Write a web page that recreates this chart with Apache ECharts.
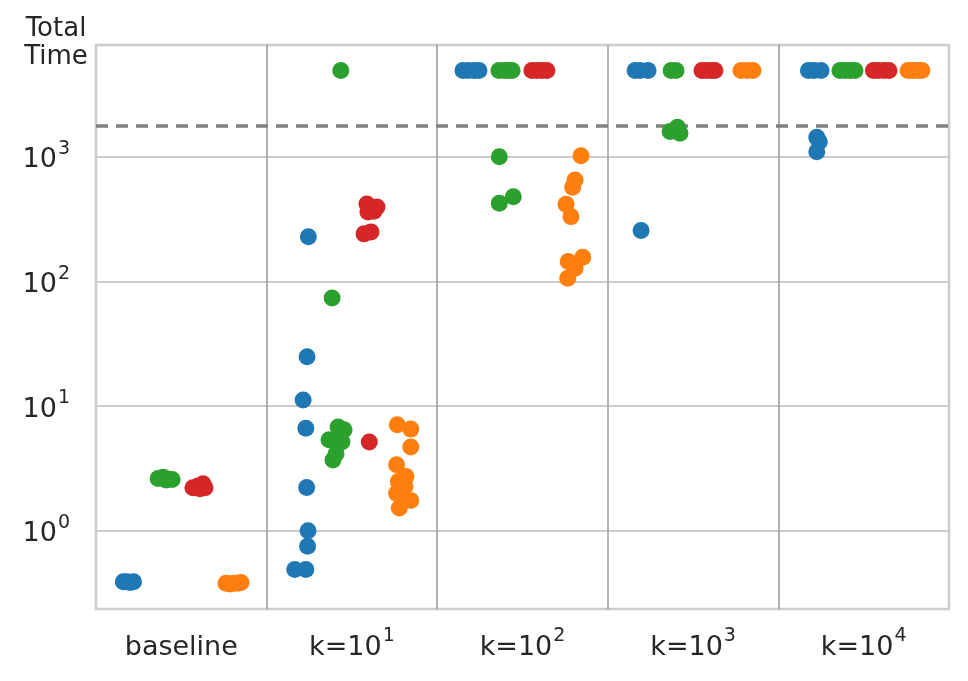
<!DOCTYPE html>
<html>
<head>
<meta charset="utf-8">
<script src="https://cdn.jsdelivr.net/npm/echarts@6/dist/echarts.min.js"></script>
<style>
  html, body { margin: 0; padding: 0; background: #fff; }
  #main { width: 968px; height: 681px; }
</style>
</head>
<body>
<div id="main"></div>
<script>
// categories on the x axis ("^n" is drawn as a superscript)
var categories = ['baseline', 'k=10^1', 'k=10^2', 'k=10^3', 'k=10^4'];

var TIMEOUT = 4900;   // runs that hit the time limit
var CUTOFF = 1760;    // dashed reference line

// [category index, jitter (in category units), total time]
var bluePoints = [
  [0, -0.04, 0.39], [0, -0.02, 0.39], [0, 0.0, 0.385], [0, 0.02, 0.39],
  [1, 0.045, 228], [1, 0.037, 24.8], [1, 0.014, 11.2], [1, 0.03, 6.65], [1, 0.035, 2.22],
  [1, 0.043, 1.0], [1, 0.04, 0.75], [1, -0.035, 0.49], [1, 0.03, 0.49],
  [2, -0.049, TIMEOUT], [2, -0.019, TIMEOUT], [2, 0.016, TIMEOUT], [2, 0.045, TIMEOUT],
  [3, -0.04, TIMEOUT], [3, -0.011, TIMEOUT], [3, 0.036, TIMEOUT], [3, -0.005, 255],
  [4, -0.024, TIMEOUT], [4, 0.009, TIMEOUT], [4, 0.05, TIMEOUT],
  [4, 0.025, 1428], [4, 0.04, 1316], [4, 0.025, 1094]
];
var greenPoints = [
  [0, -0.036, 2.63], [0, -0.007, 2.68], [0, 0.022, 2.6], [0, 0.046, 2.58], [0, 0.011, 2.55],
  [1, 0.035, TIMEOUT], [1, -0.016, 73.6],
  [1, 0.019, 6.8], [1, 0.054, 6.45], [1, -0.034, 5.36], [1, 0.042, 5.17], [1, 0.013, 4.89],
  [1, 0.007, 4.14], [1, -0.011, 3.7],
  [2, -0.038, TIMEOUT], [2, -0.008, TIMEOUT], [2, 0.015, TIMEOUT], [2, 0.039, TIMEOUT],
  [2, -0.036, 998], [2, -0.036, 423], [2, 0.046, 477],
  [3, -0.029, TIMEOUT], [3, 0.0, TIMEOUT], [3, -0.035, 1585], [3, 0.008, 1718], [3, 0.023, 1537],
  [4, -0.039, TIMEOUT], [4, -0.009, TIMEOUT], [4, 0.02, TIMEOUT], [4, 0.049, TIMEOUT]
];
var redPoints = [
  [0, -0.032, 2.21], [0, -0.002, 2.29], [0, 0.027, 2.38], [0, 0.039, 2.21], [0, 0.009, 2.17],
  [1, 0.002, 5.14], [1, -0.012, 417], [1, 0.047, 394], [1, -0.006, 360], [1, 0.029, 365],
  [1, -0.029, 240], [1, 0.012, 249],
  [2, -0.045, TIMEOUT], [2, -0.015, TIMEOUT], [2, 0.014, TIMEOUT], [2, 0.043, TIMEOUT],
  [3, -0.048, TIMEOUT], [3, -0.019, TIMEOUT], [3, 0.005, TIMEOUT], [3, 0.028, TIMEOUT],
  [4, -0.043, TIMEOUT], [4, -0.016, TIMEOUT], [4, 0.019, TIMEOUT], [4, 0.048, TIMEOUT]
];
var orangePoints = [
  [0, -0.038, 0.38], [0, -0.015, 0.375], [0, 0.009, 0.38], [0, 0.032, 0.38], [0, 0.05, 0.385],
  [1, -0.034, 7.07], [1, 0.045, 6.53], [1, 0.045, 4.69], [1, -0.038, 3.38], [1, 0.017, 2.72],
  [1, -0.028, 2.48], [1, 0.011, 2.26], [1, -0.038, 2.0], [1, 0.045, 1.75], [1, -0.022, 1.52],
  [2, 0.043, 1016], [2, 0.008, 650], [2, -0.006, 567], [2, -0.045, 415], [2, -0.016, 330],
  [2, 0.053, 156], [2, -0.032, 144], [2, 0.008, 127], [2, -0.035, 106],
  [3, -0.019, TIMEOUT], [3, 0.016, TIMEOUT], [3, 0.051, TIMEOUT],
  [4, -0.04, TIMEOUT], [4, -0.011, TIMEOUT], [4, 0.018, TIMEOUT], [4, 0.041, TIMEOUT]
];

var groups = [
  { name: 'blue', color: '#1f77b4', points: bluePoints },
  { name: 'green', color: '#2ca02c', points: greenPoints },
  { name: 'red', color: '#d62728', points: redPoints },
  { name: 'orange', color: '#ff7f0e', points: orangePoints }
];
var dodge = [-0.3, -0.1, 0.1, 0.3];

var FONT = 'DejaVu Sans';
var TEXT = '#262626';

function supLabel(s) {
  var parts = s.split('^');
  if (parts.length < 2) return '{b|' + s + '}';
  return '{b|' + parts[0] + '}{s|' + parts[1] + '}';
}
var richText = {
  b: { fontSize: 27, fontFamily: FONT, color: TEXT, lineHeight: 34, verticalAlign: 'bottom' },
  s: { fontSize: 19, fontFamily: FONT, color: TEXT, lineHeight: 34, verticalAlign: 'top', padding: [0, 0, 0, 1] }
};

var series = groups.map(function (g, h) {
  return {
    name: g.name,
    type: 'scatter',
    xAxisIndex: 1,
    yAxisIndex: 0,
    symbol: 'circle',
    symbolSize: 17,
    itemStyle: { color: g.color, opacity: 1 },
    emphasis: { disabled: true },
    data: g.points.map(function (p) {
      return [p[0] + 0.5 + dodge[h] + p[1], p[2]];
    }),
    z: 3
  };
});

// dashed cutoff line
series[0].markLine = {
  silent: true,
  symbol: 'none',
  label: { show: false },
  lineStyle: { color: '#808080', width: 3.5, type: [12, 8] },
  data: [{ yAxis: CUTOFF }],
  z: 2
};
// thin separators between the categories
var separators = [];
for (var i = 1; i < categories.length; i++) separators.push({ xAxis: i });
series[1].markLine = {
  silent: true,
  symbol: 'none',
  label: { show: false },
  lineStyle: { color: '#999999', width: 1.5, type: 'solid' },
  data: separators,
  z: 1
};

var chart = echarts.init(document.getElementById('main'), null, { renderer: 'canvas' });
chart.setOption({
  animation: false,
  backgroundColor: '#ffffff',
  textStyle: { fontFamily: FONT },
  grid: {
    left: 96, right: 19, top: 45, bottom: 72,
    show: true, borderColor: '#cccccc', borderWidth: 2.5, z: 0
  },
  graphic: [{
    type: 'text',
    x: 56, y: 15,
    style: {
      text: 'Total\nTime',
      fontSize: 26, fontFamily: FONT, fill: TEXT,
      textAlign: 'center', lineHeight: 28
    }
  }],
  xAxis: [{
    type: 'category',
    data: categories,
    boundaryGap: true,
    axisLine: { show: false },
    axisTick: { show: false },
    splitLine: { show: false },
    axisLabel: {
      margin: 18,
      formatter: function (v) { return supLabel(v); },
      rich: richText
    }
  }, {
    type: 'value',
    min: 0, max: 5,
    show: false
  }],
  yAxis: [{
    type: 'log',
    logBase: 10,
    min: 0.236, max: 7840,
    axisLine: { show: false },
    axisTick: { show: false },
    splitLine: { show: true, lineStyle: { color: '#cccccc', width: 2 } },
    axisLabel: {
      margin: 26,
      formatter: function (v) {
        var e = Math.log10(v);
        if (Math.abs(e - Math.round(e)) > 1e-6) return '';
        return supLabel('10^' + Math.round(e));
      },
      rich: richText
    }
  }],
  series: series
});
</script>
</body>
</html>
